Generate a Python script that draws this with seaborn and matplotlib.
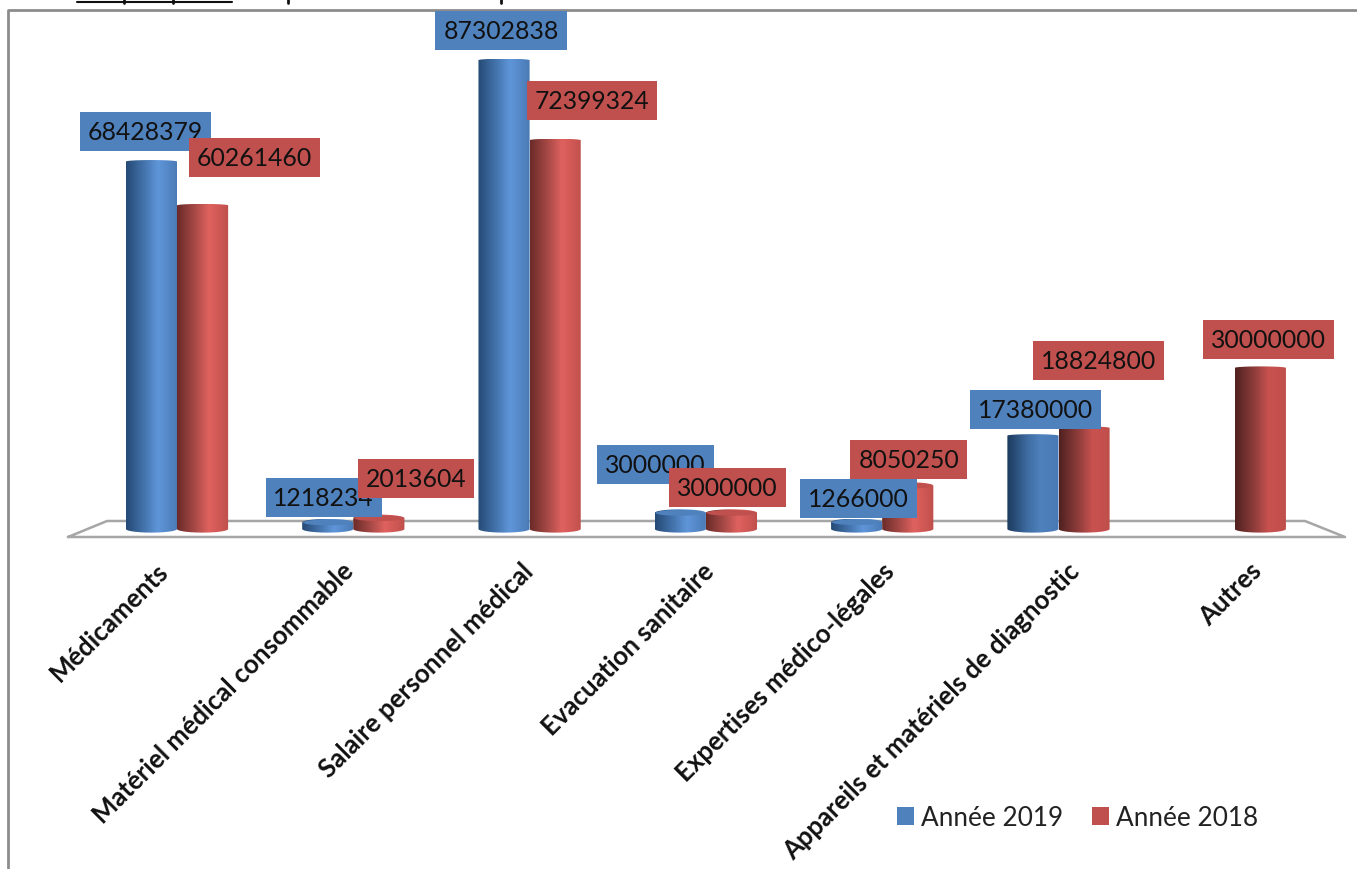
import numpy as np
import pandas as pd
import matplotlib
matplotlib.use("Agg")
import matplotlib.pyplot as plt
import seaborn as sns
from matplotlib.colors import LinearSegmentedColormap
from matplotlib.lines import Line2D
from matplotlib.patches import Ellipse
from matplotlib.path import Path
from matplotlib.transforms import ScaledTranslation

categories = [
    "Médicaments",
    "Matériel médical consommable",
    "Salaire personnel médical",
    "Evacuation sanitaire",
    "Expertises médico-légales",
    "Appareils et matériels de diagnostic",
    "Autres",
]
values_2019 = [68428379, 1218234, 87302838, 3000000, 1266000, 17380000, np.nan]
values_2018 = [60261460, 2013604, 72399324, 3000000, 8050250, 18824800, 30000000]
years = ["Année 2019", "Année 2018"]

W, H = 1357, 870
ZERO_PX = 530
PX_PER_UNIT = 5.37e-6
CAT_START, CAT_STEP = 177, 176.3

BLUE, RED = "#4f81bd", "#c0504d"
blue_cmap = LinearSegmentedColormap.from_list(
    "b", [(0, "#254a75"), (0.35, "#4474ad"), (0.62, "#5f96da"), (1, "#4a7ab5")])
red_cmap = LinearSegmentedColormap.from_list(
    "r", [(0, "#6a2b29"), (0.35, "#a94a47"), (0.62, "#e0625f"), (1, "#bf4f4c")])
# the two bars on the right are shaded harder on their left side
blue_dark = LinearSegmentedColormap.from_list(
    "bd", [(0, "#1c3a5e"), (0.4, "#3f6da3"), (0.65, "#4f81bd"), (1, "#4a7ab5")])
red_dark = LinearSegmentedColormap.from_list(
    "rd", [(0, "#4f2120"), (0.4, "#943f3d"), (0.65, "#c9524f"), (1, "#bf4f4c")])

# label box offsets from the top of each bar, in pixels
offsets_2019 = [(-6, 30), (-4, 25), (-3, 30), (-25, 48), (2, 24), (3, 26), None]
offsets_2018 = [(52, 48), (37, 40), (37, 40), (-4, 25), (1, 26), (14, 67), (8, 28)]
# the tick labels drift to the right of the categories
label_shift = [-21, -12, -9, -4, 0, 9, 14]

sns.set_theme(style="white")
plt.rcParams["font.family"] = ["Lato", "DejaVu Sans"]

df = pd.DataFrame({
    "categorie": categories * 2,
    "annee": [years[0]] * 7 + [years[1]] * 7,
    "valeur": values_2019 + values_2018,
})

fig = plt.figure(figsize=(W / 100, H / 100), dpi=100)
ax = fig.add_axes([0, 1 - 545 / H, 1, 545 / H])
ax.patch.set_visible(False)

sns.barplot(data=df, x="categorie", y="valeur", hue="annee", order=categories,
            hue_order=years, palette=[BLUE, RED], saturation=1, width=0.58, gap=0,
            linewidth=0, ax=ax)

xlim = ((0 - CAT_START) / CAT_STEP, (W - CAT_START) / CAT_STEP)
ylim = (-(545 - ZERO_PX) / PX_PER_UNIT, ZERO_PX / PX_PER_UNIT)
cap = 3.6 / PX_PER_UNIT
cap_flat = 1.5 / PX_PER_UNIT

series = [
    (ax.containers[0], values_2019, offsets_2019, BLUE, blue_cmap, blue_dark, 6),
    (ax.containers[1], values_2018, offsets_2018, RED, red_cmap, red_dark, 7),
]
theta_top = np.linspace(0, np.pi, 40)
theta_low = np.linspace(np.pi, 2 * np.pi, 40)

for bars, vals, offs, color, cmap, cmap_right, z in series:
    kept = [(i, v, o) for i, (v, o) in enumerate(zip(vals, offs)) if not np.isnan(v)]
    for bar, (i, v, off) in zip(bars, kept):
        x0, w, h = bar.get_x(), bar.get_width(), bar.get_height()
        cx = x0 + w / 2
        short = h < 10e6
        top = cap if short else cap_flat

        # cylinder outline: top half ellipse, then bottom half ellipse
        xs = np.r_[cx + w / 2 * np.cos(theta_top), cx + w / 2 * np.cos(theta_low)]
        ys = np.r_[h + top * np.sin(theta_top), cap * np.sin(theta_low)]
        outline = Path(np.c_[xs, ys])

        bar.set_visible(False)
        im = ax.imshow(np.linspace(0, 1, 128).reshape(1, -1),
                       cmap=cmap_right if i >= 5 else cmap, aspect="auto",
                       extent=(x0, x0 + w, -cap, h + top), zorder=3)
        im.set_clip_path(outline, transform=ax.transData)
        if short:
            ax.add_patch(Ellipse((cx, h), w * 0.97, cap * 1.6, color=color, lw=0, zorder=4))

        ax.annotate(f"{int(v)}", xy=(cx, h), xytext=off, textcoords="offset pixels",
                    ha="center", va="center", fontsize=17.8, color="#111111", zorder=z,
                    bbox=dict(boxstyle="square,pad=0.32", fc=color, ec="none"))

ax.set_xlim(xlim)
ax.set_ylim(ylim)
ax.set_xlabel("")
ax.set_ylabel("")
ax.set_yticks([])
sns.despine(ax=ax, left=True, bottom=True)
ax.tick_params(axis="x", length=0, pad=10, labelrotation=45)
for lab, dx in zip(ax.get_xticklabels(), label_shift):
    lab.set_ha("right")
    lab.set_rotation_mode("anchor")
    lab.set_fontweight("bold")
    lab.set_fontsize(18.5)
    lab.set_color("#111111")
    lab.set_transform(lab.get_transform() + ScaledTranslation(dx / 100, 0, fig.dpi_scale_trans))

handles, labels = ax.get_legend_handles_labels()
ax.legend(handles, labels, ncol=2, frameon=False, loc="center left", fontsize=18.8,
          bbox_to_anchor=(873 / W, 1 - 819 / H), bbox_transform=fig.transFigure,
          handlelength=0.68, handleheight=0.68, handletextpad=0.25, columnspacing=1.1,
          labelcolor="#222222")


def px_line(xs, ys, **kw):
    fig.add_artist(Line2D([x / W for x in xs], [1 - y / H for y in ys], **kw))


# 3D floor, behind the bars
px_line([68, 107, 1305, 1345, 68], [538, 522, 522, 538, 538], color="#a6a6a6", lw=1.8, zorder=-1)
# chart frame
px_line([8, 8, 1357], [875, 11, 11], color="#8c8c8c", lw=2, zorder=-1)
# what is left of the cropped heading
px_line([77, 232], [3, 3], color="#111111", lw=1.5)
for x in [124, 173, 288, 501]:
    px_line([x, x], [0, 4], color="#111111", lw=2)

fig.savefig("out.png", dpi=100)
